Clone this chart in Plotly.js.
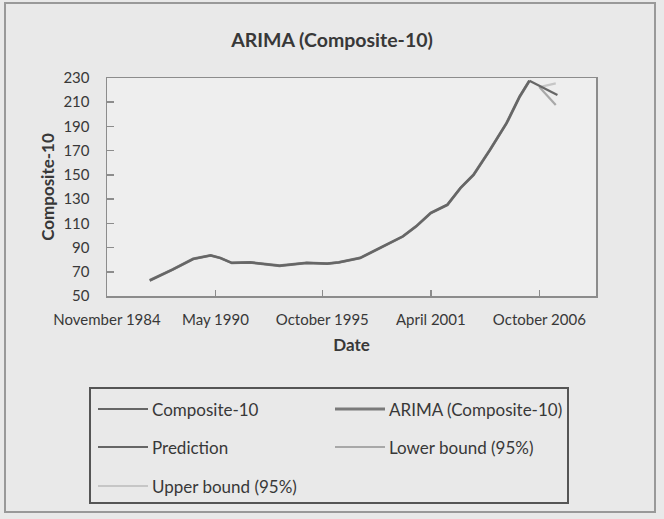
<!DOCTYPE html>
<html>
<head>
<meta charset="utf-8">
<script src="https://cdn.plot.ly/plotly-3.0.1.min.js"></script>
<style>
  html, body { margin: 0; padding: 0; background: #e9e9e9; }
  #chart { width: 664px; height: 519px; }
</style>
</head>
<body>
<div id="chart"></div>
<script>
// Case-Shiller Composite-10 index (monthly readings sampled along the curve)
const histDates = [
  "1987-01-01", "1988-03-01", "1989-03-15", "1990-02-01", "1990-08-01",
  "1991-03-01", "1992-02-01", "1993-08-01", "1994-12-15", "1996-01-01",
  "1996-08-01", "1997-09-01", "1998-09-01", "1999-11-01", "2000-07-01",
  "2001-04-01", "2002-02-01", "2002-10-01", "2003-06-01", "2004-04-01",
  "2005-02-01", "2005-10-01", "2006-04-01"
];
const composite10 = [
  62.9, 71.8, 80.6, 83.5, 81.4,
  77.3, 77.8, 75.0, 77.3, 76.7,
  77.8, 81.4, 89.6, 99.2, 107.4,
  118.5, 125.3, 139.1, 150.1, 170.7,
  192.7, 214.6, 227.8
];
// ARIMA fitted values (coincide with the observed index)
const arimaFit = [
  62.9, 71.8, 80.6, 83.5, 81.4,
  77.3, 77.8, 75.0, 77.3, 76.7,
  77.8, 81.4, 89.6, 99.2, 107.4,
  118.5, 125.3, 139.1, 150.1, 170.7,
  192.7, 214.6, 227.8
];

// Out-of-sample forecast with 95% interval
const predDates = ["2006-04-01", "2006-09-01", "2007-09-01"];
const prediction = [227.8, 224.2, 216.0];
const boundDates = ["2006-10-01", "2007-08-01"];
const lowerBound = [222.5, 207.7];
const upperBound = [222.5, 225.6];

const tickDates = ["1984-11-01", "1990-05-01", "1995-10-01", "2001-04-01", "2006-10-01"];
const tickLabels = ["November 1984", "May 1990", "October 1995", "April 2001", "October 2006"];
const yTicks = [50, 70, 90, 110, 130, 150, 170, 190, 210, 230];

const seriesNames = ["Composite-10", "ARIMA (Composite-10)", "Prediction", "Lower bound (95%)", "Upper bound (95%)"];

const style = {
  "Composite-10":         { color: "#666666", width: 2.2 },
  "ARIMA (Composite-10)": { color: "#7a7a7a", width: 2.8 },
  "Prediction":           { color: "#666666", width: 2.2 },
  "Lower bound (95%)":    { color: "#a8a8a8", width: 2.2 },
  "Upper bound (95%)":    { color: "#c6c6c6", width: 2.2 }
};

const traces = [
  { x: histDates, y: arimaFit, name: seriesNames[1] },
  { x: histDates, y: composite10, name: seriesNames[0] },
  { x: boundDates, y: upperBound, name: seriesNames[4] },
  { x: boundDates, y: lowerBound, name: seriesNames[3] },
  { x: predDates, y: prediction, name: seriesNames[2] }
].map(t => Object.assign(t, {
  type: "scatter", mode: "lines", showlegend: false, hoverinfo: "skip",
  line: { color: style[t.name].color, width: style[t.name].width }
}));

// plot-area geometry in pixels
const W = 664, Hh = 519;
const L = 107, R = 596, T = 78, B = 296;
const px = v => (v - L) / (R - L);
const py = v => (B - v) / (B - T);

const textColor = "#383838";
const fontFam = "Lato, 'Open Sans', sans-serif";

// boxed two-column key below the chart
const keySlots = [
  { name: seriesNames[0], x: 98,  y: 409 },
  { name: seriesNames[1], x: 335, y: 409 },
  { name: seriesNames[2], x: 98,  y: 447 },
  { name: seriesNames[3], x: 335, y: 447 },
  { name: seriesNames[4], x: 98,  y: 486 }
];

const shapes = [
  // outer frame
  { type: "rect", xref: "paper", yref: "paper",
    x0: px(5), x1: px(655), y0: py(512), y1: py(3),
    line: { color: "#999999", width: 2 }, layer: "below" },
  // key box
  { type: "rect", xref: "paper", yref: "paper",
    x0: px(90), x1: px(568), y0: py(503), y1: py(388),
    line: { color: "#555555", width: 2 } }
];
const annotations = [];
keySlots.forEach(k => {
  const s = style[k.name];
  shapes.push({ type: "line", xref: "paper", yref: "paper",
    x0: px(k.x), x1: px(k.x + 50), y0: py(k.y), y1: py(k.y),
    line: { color: s.color, width: s.width } });
  annotations.push({ xref: "paper", yref: "paper", x: px(k.x + 52), y: py(k.y),
    xanchor: "left", yanchor: "middle", showarrow: false, text: k.name,
    font: { family: fontFam, size: 17, color: textColor } });
});

const layout = {
  width: W, height: Hh,
  margin: { l: L, r: W - R, t: T, b: Hh - B, pad: 0 },
  paper_bgcolor: "#e9e9e9",
  plot_bgcolor: "#eeeeee",
  showlegend: false,
  title: {
    text: "<b>ARIMA (Composite-10)</b>",
    x: 0.5, xref: "container", xanchor: "center",
    y: 1 - 40 / Hh, yref: "container", yanchor: "middle",
    font: { family: fontFam, size: 19.5, color: textColor }
  },
  xaxis: {
    type: "date",
    range: ["1984-11-01", "2009-08-15"],
    tickmode: "array", tickvals: tickDates, ticktext: tickLabels,
    ticks: "inside", ticklen: 6, tickwidth: 1.5, tickcolor: "#8c8c8c",
    showline: true, mirror: true, linecolor: "#8c8c8c", linewidth: 1.5,
    showgrid: false, zeroline: false,
    ticklabelstandoff: 9,
    tickfont: { family: fontFam, size: 15, color: textColor },
    title: { text: "<b>Date</b>", standoff: 12,
             font: { family: fontFam, size: 17, color: textColor } }
  },
  yaxis: {
    range: [50, 230],
    tickmode: "array", tickvals: yTicks,
    ticks: "inside", ticklen: 7, tickwidth: 1.5, tickcolor: "#8c8c8c",
    showline: true, mirror: true, linecolor: "#8c8c8c", linewidth: 1.5,
    showgrid: false, zeroline: false,
    ticklabelstandoff: 13,
    tickfont: { family: fontFam, size: 15, color: textColor },
    title: { text: "<b>Composite-10</b>", standoff: 4,
             font: { family: fontFam, size: 17, color: textColor } }
  },
  shapes: shapes,
  annotations: annotations
};

Plotly.newPlot("chart", traces, layout, { displayModeBar: false, staticPlot: true });
</script>
</body>
</html>
